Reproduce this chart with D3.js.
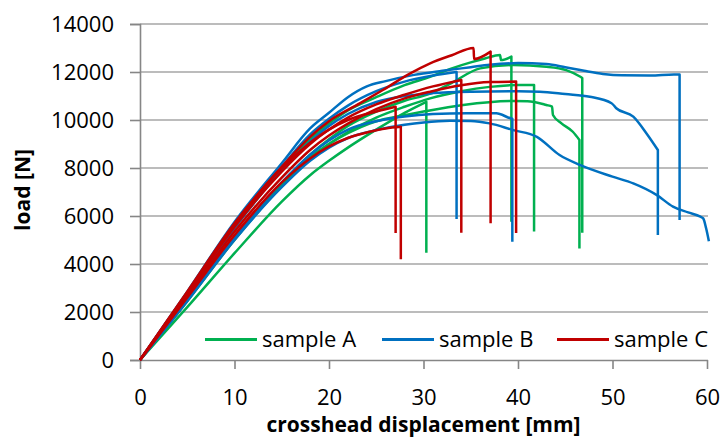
<!DOCTYPE html>
<html><head><meta charset="utf-8">
<script src="https://cdn.jsdelivr.net/npm/d3@7"></script>
<style>
html,body{margin:0;padding:0;background:#fff;}
svg{display:block;}
text{font-family:"Open Sans","Noto Sans",sans-serif;fill:#000;}
</style></head>
<body><svg id="c" width="724" height="441"></svg>
<script>
// ---- data ----
const xTicks = [0,10,20,30,40,50,60];
const yTicks = [0,2000,4000,6000,8000,10000,12000,14000];
const seriesNames = ["sample A","sample B","sample C"];

// sample A (green) curves: [displacement mm, load N]
const A1 = [[0,0],[5,2200],[10,4450],[15,6600],[18,7700],[20,8300],[22,8850],[25,9600],[28,10300],[30.3,10760]];
const A2 = [[0,0],[5,2700],[10,5500],[15,7950],[18,9200],[20,9850],[22,10400],[25,10950],[28,11450],[30.7,11800],[33,12150],[35,12400],[36.5,12560],[38.1,12710],[38.2,12500],[39.3,12640]];
const A3 = [[0,0],[5,2450],[10,5000],[15,7250],[18,8400],[20,9000],[22,9500],[25,10100],[28,10550],[30.7,10900],[34,11200],[37,11380],[40,11460],[41.7,11460]];
const A4 = [[0,0],[5,2500],[10,5050],[15,7300],[18,8450],[20,9000],[22,9450],[25,9950],[28,10200],[30,10350],[34.2,10625],[39.5,10790],[41,10780],[43,10625],[43.6,10560],[43.7,10210],[44.6,9860],[45.8,9510],[46.5,9170]];
const A5 = [[0,0],[5,2500],[10,5100],[15,7350],[18,8550],[20,9200],[22,9750],[25,10350],[28,10800],[30.7,11100],[33,11550],[36,12150],[39.5,12290],[43,12220],[45.1,12080],[46.6,11800],[46.8,11750]];
const dropA = [4470, 5760, 5350, 4650, 5300];

// sample B (blue) curves
const B1 = [[0,0],[5,2850],[10,5750],[15,8200],[18,9650],[20,10300],[22,10950],[24,11400],[26,11620],[29,11880],[32,12050],[35,12200],[37,12300],[40,12370],[43,12330],[45,12200],[47,12050],[49,11920],[51,11860],[54,11850],[56.5,11900],[57.1,11900]];
const B2 = [[0,0],[5,2800],[10,5650],[15,8050],[18,9400],[20,10050],[22,10600],[25,11200],[28,11600],[31,11850],[33.5,12000]];
const B3 = [[0,0],[5,2700],[10,5500],[15,7900],[18,9100],[20,9750],[22,10250],[25,10750],[28,11000],[31,11120],[35,11180],[40,11200],[42.3,11180],[45,11080],[47.6,10970],[49.9,10700],[50.4,10490],[52.2,10140],[53.6,9440],[54.8,8750]];
const B4 = [[0,0],[5,2500],[10,5100],[15,7400],[18,8550],[20,9150],[22,9600],[25,9950],[28,10150],[31,10250],[34.6,10280],[37.7,10280],[39.2,10070],[39.4,10050]];
const B5 = [[0,0],[5,2450],[10,5000],[15,7200],[18,8300],[20,8850],[22,9250],[25,9580],[28,9800],[30,9900],[32.8,9970],[35,9960],[37,9860],[39.5,9580],[42,9300],[44.4,8540],[46.6,8120],[50,7640],[52.2,7360],[54.7,6870],[56.4,6390],[58,6150],[59.3,5970],[59.6,5900],[59.9,5500],[60.2,4950]];
const dropB = [5830, 5875, 5210, 4930, null];

// sample C (red) curves
const C1 = [[0,0],[5,2800],[10,5650],[15,8000],[18,9050],[20,9600],[22,10000],[25,10350],[27.05,10550]];
const C2 = [[0,0],[5,2600],[10,5200],[15,7400],[18,8400],[20,8900],[22,9250],[24.3,9510],[26,9650],[27.6,9720]];
const C3 = [[0,0],[5,2850],[10,5700],[15,8050],[18,9300],[20,9950],[23.3,10700],[25.7,11250],[28.6,11940],[30.7,12360],[33,12700],[35.3,13000],[35.35,12540],[37.1,12850]];
const C4 = [[0,0],[5,2750],[10,5550],[15,7850],[18,9000],[20,9600],[22,10100],[25,10650],[28,11050],[31,11400],[34,11670]];
const C5 = [[0,0],[5,2650],[10,5350],[15,7600],[18,8750],[20,9350],[22,9850],[25,10450],[28,10900],[30.7,11180],[34,11450],[37,11580],[39.8,11600]];
const dropC = [5290, 4200, 5700, 5300, 5290];

// ---- styles ----
const colors = ["#00B050","#0070C0","#C00000"];
const groups = [
  {curves:[A1,A2,A3,A4,A5], drops:dropA},
  {curves:[B1,B2,B3,B4,B5], drops:dropB},
  {curves:[C1,C2,C3,C4,C5], drops:dropC}
];

const svg = d3.select("#c");
const L = 140, R = 707, T = 24, B = 360;
const x = d3.scaleLinear().domain([0,60]).range([L,R]);
const y = d3.scaleLinear().domain([0,14000]).range([B,T]);

// gridlines
svg.append("g").selectAll("line").data(yTicks.filter(d=>d>0)).join("line")
  .attr("x1",L).attr("x2",R+1).attr("y1",d=>y(d)).attr("y2",d=>y(d))
  .attr("stroke","#A6A6A6").attr("stroke-width",1.6);

// axes
const yAxis = d3.axisLeft(y).tickValues(yTicks).tickSize(10).tickPadding(16).tickFormat(d3.format("d"));
const gy = svg.append("g").attr("transform",`translate(${L},0)`).call(yAxis);
const xAxis = d3.axisBottom(x).tickValues(xTicks).tickSize(9).tickPadding(20).tickFormat(d3.format("d"));
const gx = svg.append("g").attr("transform",`translate(0,${B})`).call(xAxis);
[gx,gy].forEach(g=>{
  g.select(".domain").attr("stroke","#868686").attr("stroke-width",1.6);
  g.selectAll(".tick line").attr("stroke","#868686").attr("stroke-width",1.6);
  g.selectAll(".tick text").attr("font-size",22).attr("font-family","'Open Sans'").attr("fill","#000");
});
gx.select(".domain").attr("d",`M${L},0.5H${R+1}`);

// curves
const line = d3.line().x(d=>x(d[0])).y(d=>y(d[1])).curve(d3.curveMonotoneX);
groups.forEach((g,gi)=>{
  g.curves.forEach((pts,ci)=>{
    let d = line(pts);
    const last = pts[pts.length-1];
    if (g.drops[ci] != null) d += `L${x(last[0])},${y(g.drops[ci])}`;
    svg.append("path").attr("d",d).attr("fill","none")
      .attr("stroke",colors[gi]).attr("stroke-width",2.5)
      .attr("stroke-linejoin","round");
  });
});

// legend
const legX = [205, 382, 557];
const leg = svg.append("g");
seriesNames.forEach((n,i)=>{
  leg.append("line").attr("x1",legX[i]).attr("x2",legX[i]+52)
    .attr("y1",339.5).attr("y2",339.5).attr("stroke",colors[i]).attr("stroke-width",2.8);
  leg.append("text").attr("x",legX[i]+57).attr("y",347).attr("font-size",22).text(n);
});

// axis titles
svg.append("text").attr("x",(L+R)/2).attr("y",432).attr("text-anchor","middle")
  .attr("font-size",21).attr("font-weight","bold").text("crosshead displacement [mm]");
svg.append("text").attr("transform","translate(30,190) rotate(-90)").attr("text-anchor","middle")
  .attr("font-size",21).attr("font-weight","bold").text("load [N]");
</script></body></html>
